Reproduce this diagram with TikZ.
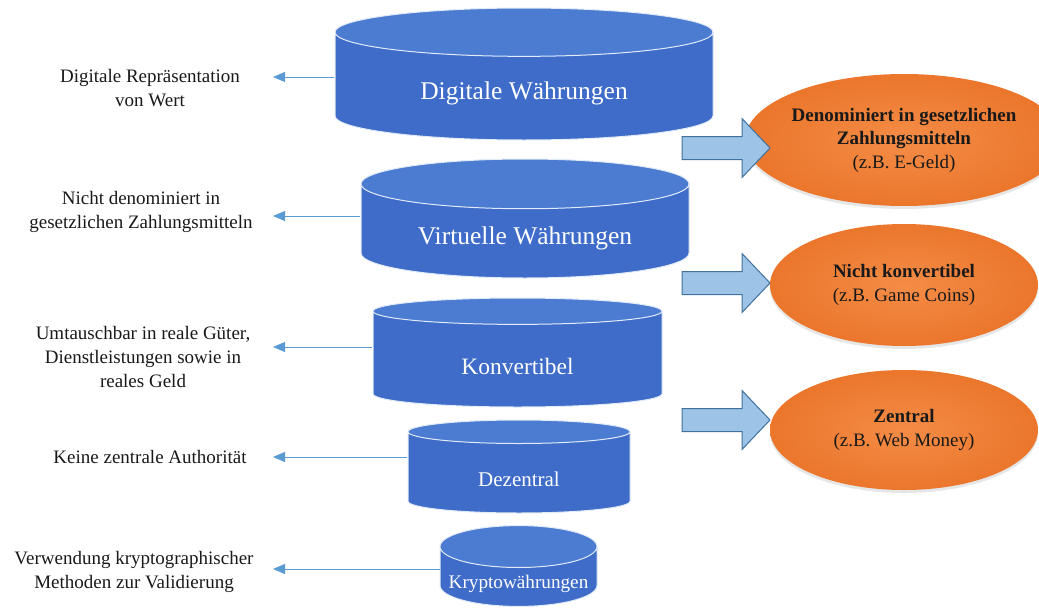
\documentclass[tikz,border=0pt]{standalone}
\usepackage{fontspec}
\setmainfont{Liberation Serif}
\usetikzlibrary{arrows.meta, positioning, calc, shapes.geometric, shadows}
\definecolor{cylblue}{RGB}{62,108,200}
\definecolor{cyltop}{RGB}{76,124,210}
\definecolor{cyledge}{RGB}{225,234,247}
\definecolor{linkblue}{RGB}{91,155,213}
\definecolor{arrfill}{RGB}{157,195,230}
\definecolor{arredge}{RGB}{65,113,156}
\definecolor{orangein}{RGB}{244,140,70}
\definecolor{orangeout}{RGB}{235,118,44}
\definecolor{inktext}{RGB}{25,25,25}

\newcommand{\lowered}[1]{\raisebox{-7pt}[\height][\depth]{#1}}

\tikzset{
  level/.style={cylinder, shape border rotate=90, draw=cyledge, line width=1pt,
    cylinder uses custom fill, cylinder body fill=cylblue, cylinder end fill=cyltop,
    text=white, inner sep=0pt, anchor=shape center},
  note/.style={align=center, text=inktext, font=\fontsize{19}{24}\selectfont},
  kind/.style={ellipse, minimum width=268pt, inner sep=0pt, align=center,
    inner color=orangein, outer color=orangeout, text=inktext,
    font=\fontsize{19}{23.5}\selectfont,
    drop shadow={shadow xshift=0pt, shadow yshift=-3pt, opacity=0.2}},
  link/.style={linkblue, line width=1pt, -{Triangle[length=12pt,width=10pt]}},
  bigarrow/.style={fill=arrfill, draw=arredge, line width=1pt, line join=miter}
}

\begin{document}
\begin{tikzpicture}[x=1pt, y=-1pt]
  \useasboundingbox (0,0) rectangle (1039,608);

  % the five levels
  \node[level, minimum width=378pt, minimum height=132pt, aspect=0.233,
    font=\fontsize{25.5}{30}\selectfont] (dig) at (524,74) {\lowered{Digitale Währungen}};
  \node[level, minimum width=328pt, minimum height=119pt, aspect=0.232,
    font=\fontsize{25.5}{30}\selectfont] (vir) at (525,218.5) {\lowered{Virtuelle Währungen}};
  \node[level, minimum width=289pt, minimum height=109pt, aspect=0.235,
    font=\fontsize{23.5}{28}\selectfont] (kon) at (517.5,352.5) {\lowered{Konvertibel}};
  \node[level, minimum width=222pt, minimum height=93pt, aspect=0.288,
    font=\fontsize{21}{25}\selectfont] (dez) at (519,466.5) {\lowered{Dezentral}};
  \node[level, minimum width=157pt, minimum height=68pt, aspect=0.3,
    font=\fontsize{19.2}{23}\selectfont] (kry) at (518.5,566) {\lowered{Kryptowährungen}};

  % notes on the left
  \node[note] (n1) at (150,88) {Digitale Repräsentation\\von Wert};
  \node[note] (n2) at (141,212) {Nicht denominiert in\\gesetzlichen Zahlungsmitteln};
  \node[note] (n3) at (143,357) {Umtauschbar in reale Güter,\\Dienstleistungen sowie in\\reales Geld};
  \node[note] (n4) at (150,457) {Keine zentrale Authorität};
  \node[note] (n5) at (134,572) {Verwendung kryptographischer\\Methoden zur Validierung};
  \coordinate (tips) at (273,0);

  \foreach \c/\dy in {dig/3, vir/-2.5, kon/-5.5, dez/-9.5, kry/3}
    \draw[link] ($(\c.shape center -| \c.west)+(0,\dy)$) -- ($(\c.shape center -| tips)+(0,\dy)$);

  % kinds on the right
  \node[kind, minimum height=132pt] (k1) at (904,140)
    {\textbf{Denominiert in gesetzlichen}\\\textbf{Zahlungsmitteln}\\(z.B. E-Geld)};
  \node[kind, minimum height=122pt] (k2) at (904,285)
    {\textbf{Nicht konvertibel}\\(z.B. Game Coins)};
  \node[kind, minimum height=120pt] (k3) at (904,430)
    {\textbf{Zentral}\\(z.B. Web Money)};

  \foreach \y in {148, 283, 420}
    \draw[bigarrow] (770,\y) -- ++(-28,-29.5) -- ++(0,18) -- ++(-60,0)
      -- ++(0,23) -- ++(60,0) -- ++(0,18) -- cycle;
\end{tikzpicture}
\end{document}
